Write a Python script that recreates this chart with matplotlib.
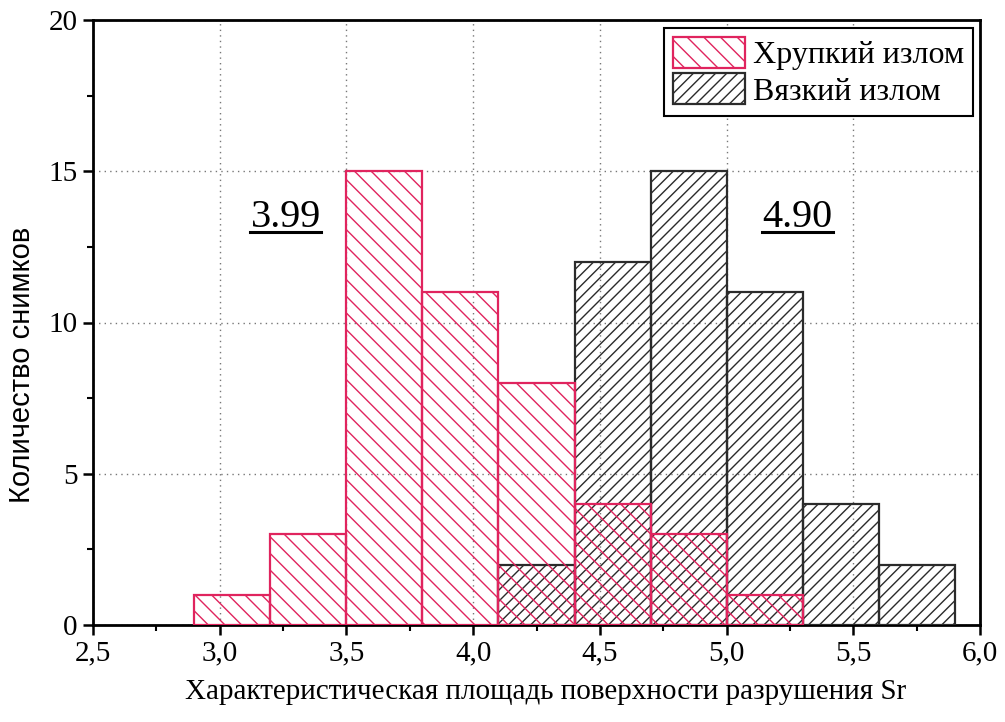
import matplotlib
matplotlib.use("Agg")
import matplotlib.pyplot as plt
import numpy as np
from matplotlib.lines import Line2D
from matplotlib.ticker import MultipleLocator, FuncFormatter

plt.rcParams["font.family"] = ["Liberation Serif", "DejaVu Serif"]
plt.rcParams["hatch.linewidth"] = 1.0

# bin edges (width 0.3) and counts
bin_left = [2.9, 3.2, 3.5, 3.8, 4.1, 4.4, 4.7, 5.0, 5.3, 5.6]
brittle_counts = [1, 3, 15, 11, 8, 4, 3, 1, 0, 0]
ductile_counts = [0, 0, 0, 0, 2, 12, 15, 11, 4, 2]
bin_width = 0.3

brittle_label = "Хрупкий излом"
ductile_label = "Вязкий излом"
brittle_mean = "3.99"
ductile_mean = "4.90"
brittle_mean_pos = (3.26, 13.15)
ductile_mean_pos = (5.28, 13.15)

red = "#e0245e"
dark = "#2b2b2b"

fig = plt.figure(figsize=(10.05, 7.22), dpi=100)
ax = fig.add_axes([93 / 1005, 1 - 625 / 722, (980 - 93) / 1005, (625 - 20) / 722])

x = np.array(bin_left)
d = np.array(ductile_counts)
b = np.array(brittle_counts)
md = d > 0
mb = b > 0
ax.bar(x[md], d[md], width=bin_width, align="edge", fill=False,
       edgecolor=dark, hatch="///", linewidth=1.6, label=ductile_label, zorder=3)
ax.bar(x[mb], b[mb], width=bin_width, align="edge", fill=False,
       edgecolor=red, hatch="\\\\", linewidth=1.6, label=brittle_label, zorder=4)

ax.set_xlim(2.5, 6.0)
ax.set_ylim(0, 20)
ax.xaxis.set_major_locator(MultipleLocator(0.5))
ax.xaxis.set_minor_locator(MultipleLocator(0.25))
ax.yaxis.set_major_locator(MultipleLocator(5))
ax.yaxis.set_minor_locator(MultipleLocator(2.5))
ax.xaxis.set_major_formatter(FuncFormatter(lambda v, p: f"{v:.1f}".replace(".", ",")))
ax.tick_params(which="major", direction="out", length=7, width=1.8, labelsize=21, pad=4)
ax.tick_params(which="minor", direction="out", length=4, width=1.5)
for s in ax.spines.values():
    s.set_linewidth(2.0)

ax.grid(True, which="major", linestyle=(0, (1, 3)), color="#777777", linewidth=1.0, zorder=0)
ax.set_axisbelow(True)

ax.set_xlabel("Характеристическая площадь поверхности разрушения Sr", fontsize=21)
ax.xaxis.set_label_coords(0.51, -0.09)
ax.set_ylabel("Количество снимков", fontsize=21, family=["Liberation Sans", "DejaVu Sans"])
ax.yaxis.set_label_coords(-0.064, 0.43)

mean_texts = []
for pos, s in [(brittle_mean_pos, brittle_mean), (ductile_mean_pos, ductile_mean)]:
    mean_texts.append(ax.text(*pos, s, fontsize=29, ha="center", va="baseline"))

handles, labels = ax.get_legend_handles_labels()
leg = ax.legend(handles[::-1], labels[::-1], loc="upper right",
                bbox_to_anchor=(0.992, 0.987), borderaxespad=0, fontsize=23,
                fancybox=False, edgecolor="black", framealpha=1,
                handlelength=2.25, handleheight=1.12, borderpad=0.28,
                labelspacing=0.1, handletextpad=0.25)
leg.get_frame().set_linewidth(1.5)

# underline the mean values, a few pixels below the baseline, as wide as the text
fig.canvas.draw()
renderer = fig.canvas.get_renderer()
inv = fig.transFigure.inverted()
for t in mean_texts:
    bb = t.get_window_extent(renderer)
    base_y = ax.transData.transform(t.get_position())[1] - 5
    (x0, y0), (x1, y1) = inv.transform([[bb.x0, base_y], [bb.x1, base_y]])
    fig.add_artist(Line2D([x0, x1], [y0, y1], color="black", linewidth=2.2,
                          transform=fig.transFigure))

fig.savefig("out.png", dpi=100)
